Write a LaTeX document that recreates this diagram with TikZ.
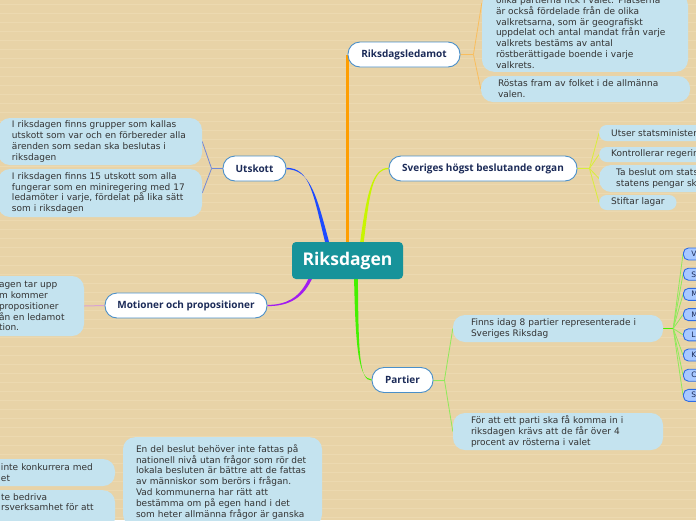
\documentclass[tikz,border=0pt]{standalone}
\usepackage{fontspec}
\setmainfont{DejaVu Sans}
\newfontfamily\titlefont{Open Sans}
\usetikzlibrary{calc}
\definecolor{bgc}{HTML}{E8D3A7}
\definecolor{stripe}{HTML}{ECD9B0}
\definecolor{boxc}{HTML}{C4E3EF}
\definecolor{pillb}{HTML}{4A8FC9}
\definecolor{navy}{HTML}{1C2B58}
\definecolor{txt}{HTML}{333333}
\definecolor{rootc}{HTML}{17939A}
\definecolor{cOrange}{HTML}{FF9E00}
\definecolor{cOrangeL}{HTML}{F9BE5E}
\definecolor{cLime}{HTML}{C8F500}
\definecolor{cLimeL}{HTML}{D9EE3A}
\definecolor{cBlue}{HTML}{1E4BFF}
\definecolor{cBlueL}{HTML}{7088D8}
\definecolor{cPurple}{HTML}{A21CF0}
\definecolor{cPink}{HTML}{D8A3D3}
\definecolor{cGreen}{HTML}{44F000}
\definecolor{cGreenL}{HTML}{8FEA5A}
\definecolor{partyf}{HTML}{A8C8FF}
\definecolor{partyb}{HTML}{2E6CE4}
\pgfdeclarelayer{bg}
\pgfdeclarelayer{links}
\pgfsetlayers{bg,links,main}
\tikzset{
  pill/.style={draw=pillb, line width=0.9pt, fill=white, rounded corners=12pt,
    minimum height=25pt, inner sep=0pt, text=navy,
    font=\titlefont\bfseries\fontsize{10}{12}\selectfont},
  rootbox/.style={fill=rootc, rounded corners=4pt, minimum width=111pt,
    minimum height=37pt, inner sep=0pt, text=white,
    font=\titlefont\bfseries\fontsize{17.5}{20}\selectfont},
  bodybox/.style={fill=boxc, rounded corners=12pt, inner ysep=0pt, text=txt,
    align=left, font=\fontsize{9}{10.9}\selectfont},
  bodytext/.style={inner sep=0pt, text=txt, align=left,
    font=\fontsize{9}{10.9}\selectfont},
  smallbox/.style={bodybox, rounded corners=7.5pt, anchor=west},
  party/.style={fill=partyf, draw=partyb, line width=0.9pt, rounded corners=5pt,
    anchor=west, minimum height=12pt, inner ysep=0pt, inner xsep=8pt,
    text=navy, font=\fontsize{7.5}{9}\selectfont},
  sublink/.style={line width=0.8pt},
}
\begin{document}
\begin{tikzpicture}[x=1pt,y=-1pt]
\useasboundingbox (0,0) rectangle (696,520);
\clip (0,0) rectangle (696,520);
\begin{pgfonlayer}{bg}
  \fill[bgc] (0,0) rectangle (696,520);
  \foreach \yy in {4,13,...,520} \draw[stripe, line width=0.6pt] (0,\yy) -- (696,\yy);
\end{pgfonlayer}

% main nodes
\node[rootbox] (root) at (347.5,260.5) {Riksdagen};
\node[pill, minimum width=112pt] (rl) at (404,54.5) {Riksdagsledamot};
\node[pill, minimum width=188pt] (sv) at (483,168.5) {Sveriges högst beslutande organ};
\node[pill, minimum width=63pt] (ut) at (254.5,168.5) {Utskott};
\node[pill, minimum width=162pt] (mo) at (186,305.5) {Motioner och propositioner};
\node[pill, minimum width=61pt] (pa) at (402.5,380) {Partier};

% Riksdagsledamot children
\node[bodybox, anchor=south, text width=178pt, inner xsep=14pt, inner ysep=3pt] (rl1) at (585,72)
  {olika partierna fick i valet. Platserna\\
   är också fördelade från de olika\\
   valkretsarna, som är geografiskt\\
   uppdelat och antal mandat från varje\\
   valkrets bestäms av antal\\
   röstberättigade boende i varje\\
   valkrets.};
\node[bodybox, text width=175pt, inner xsep=17pt, minimum height=26pt] (rl2) at (585.5,89)
  {Röstas fram av folket i de allmänna\\ valen.};

% Sveriges children
\node[smallbox, inner xsep=12pt, minimum height=16pt] (sv1) at (599,133) {Utser statsminister};
\node[smallbox, inner xsep=12pt, minimum height=15pt] (sv2) at (599,154.5) {Kontrollerar regeringen};
\node[smallbox, inner xsep=17pt, minimum height=27pt, rounded corners=12pt] (sv3) at (599,178.5)
  {Ta beslut om statsbudgeten och\\ statens pengar ska användas};
\node[smallbox, inner xsep=12pt, minimum height=15pt] (sv4) at (599,202.5) {Stiftar lagar};

% Utskott children
\node[bodybox, text width=176pt, inner xsep=14pt, minimum height=47pt] (ut1) at (100,141.5)
  {I riksdagen finns grupper som kallas\\
   utskott som var och en förbereder alla\\
   ärenden som sedan ska beslutas i\\
   riksdagen};
\node[bodybox, text width=176pt, inner xsep=14pt, minimum height=48pt] (ut2) at (100,193)
  {I riksdagen finns 15 utskott som alla\\
   fungerar som en miniregering med 17\\
   ledamöter i varje, fördelat på lika sätt\\
   som i riksdagen};

% Motioner child
\node[bodybox, text width=70pt, inner xsep=15pt, minimum height=60pt] (mo1) at (34,306)
  {agen tar upp\\ m kommer\\ propositioner\\ ån en ledamot\\ tion.};

% Partier children
\node[bodybox, text width=174pt, inner xsep=18pt, minimum height=27pt] (pa1) at (558,328.5)
  {Finns idag 8 partier representerade i\\ Sveriges Riksdag};
\node[bodybox, text width=174pt, inner xsep=18pt, minimum height=37pt] (pa2) at (558,431.5)
  {För att ett parti ska få komma in i\\
   riksdagen krävs att de får över 4\\
   procent av rösterna i valet};

% party boxes
\foreach \nm [count=\i] in {Vänsterpartiet,Socialdemokraterna,Miljöpartiet,Moderaterna,Liberalerna,Kristdemokraterna,Centerpartiet,Sverigedemokraterna}
  \node[party] (p\i) at (683,{254+20.2*(\i-1)}) {\nm};

% bottom boxes
\node[bodybox, text width=101pt, inner xsep=13pt, minimum height=27pt] (bc) at (51.5,472.5)
  {inte konkurrera med\\ et};
\node[bodybox, minimum width=130pt, minimum height=40pt, anchor=north] (bd) at (50,490) {};
\node[bodytext, anchor=north west] (bdt) at (1,493) {te bedriva\\ rsverksamhet för att};
\node[bodybox, anchor=north, text width=173pt, inner xsep=13pt, inner ysep=7pt] (be) at (222.5,437)
  {En del beslut behöver inte fattas på\\
   nationell nivå utan frågor som rör det\\
   lokala besluten är bättre att de fattas\\
   av människor som berörs i frågan.\\
   Vad kommunerna har rätt att\\
   bestämma om på egen hand i det\\
   som heter allmänna frågor är ganska};

% connectors
\begin{pgfonlayer}{links}
  % orange
  \draw[cOrange, line width=3pt] (root.north -| rl.west) -- (rl.west);
  \coordinate (rlf) at ($(rl.east)+(13,0)$);
  \draw[cOrangeL, sublink] (rl.east) -- (rlf);
  \draw[cOrangeL, sublink] (rlf) -- (rl1.west |- 0,3);
  \draw[cOrangeL, sublink] (rlf) -- (rl2.west);
  % blue
  \coordinate (bS) at ($(root.north)+(-20.5,0)$);
  \fill[cBlue] ($(bS)+(-2,0)$) .. controls (313.5,195) and (310,167.7) .. ($(ut.east)+(0,-0.7)$)
     -- ($(ut.east)+(0,0.7)$) .. controls (310,169.3) and (316.5,195) .. ($(bS)+(2,0)$) -- cycle;
  \coordinate (utf) at ($(ut.west)+(-11,0)$);
  \draw[cBlueL, sublink] (ut.west) -- (utf);
  \draw[cBlueL, sublink] (utf) -- (ut1.east);
  \draw[cBlueL, sublink] (utf) -- (ut2.east);
  % lime
  \coordinate (lS) at ($(root.north)+(14.5,0)$);
  \fill[cLime] ($(lS)+(-1.8,0)$) .. controls (366.5,195) and (372,167.8) .. ($(sv.west)+(0,-0.6)$)
     -- ($(sv.west)+(0,0.6)$) .. controls (372,169.2) and (369.5,195) .. ($(lS)+(1.8,0)$) -- cycle;
  \coordinate (svf) at ($(sv.east)+(12,0)$);
  \draw[cLimeL, sublink] (sv.east) -- (svf);
  \foreach \k in {1,2,3,4} \draw[cLimeL, sublink] (svf) -- (sv\k.west);
  % purple
  \coordinate (uS) at ($(root.south)+(-37.5,0)$);
  \fill[cPurple] ($(uS)+(-1.8,0)$) .. controls (299,299) and (285,304.8) .. ($(mo.east)+(0,-0.6)$)
     -- ($(mo.east)+(0,0.6)$) .. controls (285,306.2) and (301.5,301) .. ($(uS)+(1.8,0)$) -- cycle;
  \draw[cPink, line width=1pt] (mo.west) -- (mo1.east);
  % green
  \coordinate (gS) at ($(root.south)+(8.5,0)$);
  \fill[cGreen] ($(gS)+(-1.9,0)$) .. controls (355.5,350) and (359,379.3) .. ($(pa.west)+(0,-0.6)$)
     -- ($(pa.west)+(0,0.6)$) .. controls (359,380.7) and (358.5,350) .. ($(gS)+(1.9,0)$) -- cycle;
  \coordinate (paf) at ($(pa.east)+(11,0)$);
  \draw[cGreenL, sublink] (pa.east) -- (paf);
  \draw[cGreenL, sublink] (paf) -- (pa1.west);
  \draw[cGreenL, sublink] (paf) -- (pa2.west);
  \coordinate (ppf) at ($(pa1.east)+(10,0)$);
  \draw[cGreen, line width=1pt] (pa1.east) -- (ppf);
  \foreach \k in {1,...,8} \draw[cGreenL, sublink] (ppf) -- (p\k.west);
\end{pgfonlayer}
\end{tikzpicture}
\end{document}
